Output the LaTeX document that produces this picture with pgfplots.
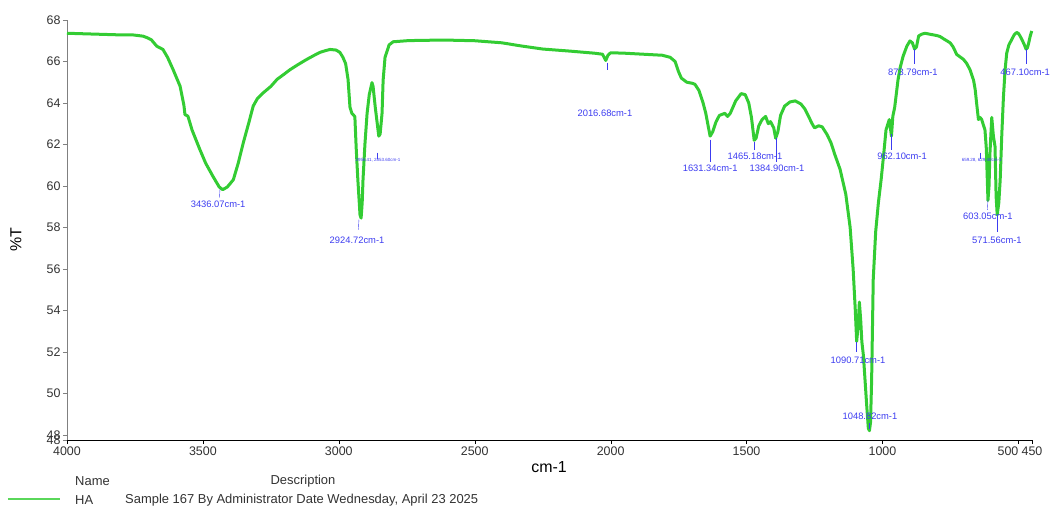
\documentclass[border=0pt]{standalone}
\usepackage{pgfplots}
\pgfplotsset{compat=1.18}
\usepackage{fontspec}
\setmainfont{Liberation Sans}
\definecolor{curve}{RGB}{51,204,51}
\definecolor{ann}{RGB}{60,60,240}
\definecolor{txt}{RGB}{50,50,50}
\definecolor{leg}{RGB}{90,215,90}
\begin{document}
\begin{tikzpicture}
\useasboundingbox (-67bp,-68bp) rectangle (986bp,440bp);
\begin{axis}[
  at={(0,0)}, anchor=south west,
  scale only axis, width=965bp, height=420bp,
  x dir=reverse, xmin=450, xmax=4000, ymin=47.75, ymax=68,
  axis x line=bottom, axis y line=left,
  axis line style={-},
  x axis line style={black},
  y axis line style={gray},
  xtick={4000,3500,3000,2500,2000,1500,1000,500,450},
  xticklabels={4000,3500,3000,2500,2000,1500,1000,\makebox[0pt][r]{500},450},
  ytick={48,50,52,54,56,58,60,62,64,66,68},
  extra y ticks={47.75}, extra y tick labels={48},
  tick align=outside, major tick length=4bp,
  xtick style={black}, ytick style={gray},
  extra y tick style={ytick style={gray}},
  /pgf/number format/assume math mode=true,
  /pgf/number format/1000 sep={},
  ticklabel style={font=\fontsize{12.5}{14}\selectfont, text=txt},
  xticklabel style={yshift=1bp},
  yticklabel style={xshift=1bp},
  clip=false,
]
\addplot[curve, line width=3bp, line join=round] coordinates {
(4000,67.36)(3900,67.32)(3800,67.28)(3757,67.28)(3720,67.22)(3706,67.15)(3690,67.05)
(3670,66.74)(3647,66.58)(3630,66.2)(3610,65.62)(3584,64.81)(3570,63.9)(3566,63.44)
(3560,63.40)(3555,63.36)(3540,62.7)(3511,61.75)(3490,61.1)(3463,60.46)(3440,59.95)
(3427,59.82)(3410,59.95)(3388,60.30)(3370,61.1)(3351,62.1)(3330,63.1)(3315,63.85)
(3300,64.2)(3277,64.5)(3250,64.8)(3227,65.14)(3200,65.4)(3180,65.6)(3150,65.85)
(3118,66.1)(3090,66.3)(3069,66.44)(3050,66.52)(3032,66.58)(3010,66.55)(2996,66.44)
(2985,66.2)(2975,65.9)(2966,65.13)(2959,63.8)(2952,63.5)(2948,63.45)(2941,63.34)
(2936,61.8)(2930,60.3)(2922,58.6)(2918,58.45)(2914,59.2)(2911,60.3)(2904,62.0)
(2896,63.5)(2888,64.4)(2878,64.98)(2874,64.8)(2866,63.8)(2853,62.4)(2848,62.5)
(2841,63.5)(2837,65.1)(2830,66.2)(2815,66.8)(2800,66.95)(2750,67.0)(2700,67.02)
(2600,67.03)(2500,67.0)(2400,66.9)(2330,66.75)(2250,66.6)(2150,66.5)(2060,66.4)
(2030,66.35)(2018,66.05)(2010,66.3)(2000,66.42)(1950,66.4)(1880,66.35)(1810,66.3)
(1781,66.2)(1763,66.0)(1750,65.5)(1740,65.2)(1720,65.0)(1700,64.95)(1690,64.9)
(1675,64.6)(1660,64.0)(1650,63.5)(1640,62.8)(1634,62.4)(1625,62.6)(1612,63.1)
(1600,63.4)(1580,63.5)(1570,63.35)(1560,63.5)(1540,64.1)(1520,64.45)(1505,64.4)
(1492,64.0)(1482,63.3)(1472,62.2)(1465,62.3)(1455,62.9)(1443,63.2)(1430,63.35)
(1420,63.0)(1412,63.1)(1400,62.8)(1393,62.3)(1385,62.6)(1375,63.4)(1360,63.85)
(1340,64.05)(1321,64.1)(1300,63.95)(1285,63.7)(1270,63.3)(1259,63.0)(1250,62.8)
(1235,62.9)(1222,62.85)(1205,62.5)(1190,62.1)(1175,61.5)(1156,60.8)(1135,59.6)
(1119,58.0)(1108,56.0)(1100,54.0)(1095,52.5)(1090,53.2)(1085,54.4)(1080,53.5)
(1076,52.5)(1070,51.8)(1064,50.6)(1058,49.4)(1052,48.3)(1048,48.2)(1044,48.6)
(1040,50.6)(1034,55.5)(1025,57.8)(1015,59.2)(1005,60.3)(995,61.6)(987,62.7)
(975,63.2)(967,62.4)(962,63.35)(955,63.8)(943,65.1)(935,65.7)(924,66.26)
(910,66.75)(899,66.99)(890,66.9)(882,66.6)(875,66.7)(867,67.23)(855,67.32)
(843,67.36)(820,67.3)(800,67.25)(788,67.2)(770,67.05)(751,66.9)(740,66.7)
(727,66.34)(702,66.1)(690,65.9)(678,65.6)(665,65.1)(659,64.65)(653,63.9)
(647,63.2)(641,63.3)(635,63.2)(628,62.9)(623,62.7)(618,61.8)(612,59.3)
(608,60.0)(605,61.5)(598,63.3)(592,62.4)(586,61.9)(582,59.5)(578,58.6)
(572,59.2)(567,60.3)(561,62.5)(555,64.3)(549,65.6)(543,66.4)(535,66.8)
(524,67.07)(515,67.3)(506,67.4)(500,67.35)(494,67.23)(485,67.0)(478,66.8)
(472,66.6)(467,66.65)(462,66.9)(457,67.2)(451,67.47)
};
% peak annotations
\begin{scope}[every node/.style={font=\fontsize{9.4}{10}\selectfont, text=ann, inner sep=0pt}]
\draw[ann, thin] (axis cs:3437,59.87) -- (axis cs:3439,59.43);
\node at (axis cs:3444,59.10) {3436.07cm-1};
\draw[ann, thin] (axis cs:2926,58.37) -- (axis cs:2928,57.89);
\node at (axis cs:2933,57.40) {2924.72cm-1};
\draw[ann, thin] (axis cs:2013,65.95) -- (axis cs:2013,65.6);
\node at (axis cs:2021,63.49) {2016.68cm-1};
\draw[ann, thin] (axis cs:1634,62.23) -- (axis cs:1634,61.16);
\node at (axis cs:1634,60.83) {1631.34cm-1};
\draw[ann, thin] (axis cs:1472,62.14) -- (axis cs:1472,61.75);
\node at (axis cs:1469,61.41) {1465.18cm-1};
\draw[ann, thin] (axis cs:1392,62.33) -- (axis cs:1392,61.16);
\node at (axis cs:1388,60.83) {1384.90cm-1};
\draw[ann, thin] (axis cs:969,62.48) -- (axis cs:969,61.75);
\node at (axis cs:928,61.41) {962.10cm-1};
\draw[ann, thin] (axis cs:884,66.58) -- (axis cs:884,65.86);
\node at (axis cs:888,65.47) {873.79cm-1};
\draw[ann, thin] (axis cs:472,66.58) -- (axis cs:472,65.86);
\node at (axis cs:475,65.47) {467.10cm-1};
\draw[ann, thin] (axis cs:612,59.34) -- (axis cs:614,58.85);
\node at (axis cs:612,58.56) {603.05cm-1};
\draw[ann, thin] (axis cs:579,58.6) -- (axis cs:579,57.8);
\node at (axis cs:579,57.40) {571.56cm-1};
\draw[ann, thin] (axis cs:1097,52.48) -- (axis cs:1097,52.0);
\node at (axis cs:1090,51.60) {1090.71cm-1};
\draw[ann, thin] (axis cs:1050,48.55) -- (axis cs:1050,48.3);
\node at (axis cs:1046,48.9) {1048.82cm-1};
\draw[ann, thin] (axis cs:2859,61.6) -- (axis cs:2859,61.3);
\node[font=\fontsize{4.5}{5}\selectfont] at (axis cs:2856,61.22) {2956.41, 2853.60cm-1};
\draw[ann, thin] (axis cs:641,61.6) -- (axis cs:641,61.3);
\node[font=\fontsize{4.5}{5}\selectfont] at (axis cs:635,61.22) {659.28, 629.40cm-1};
\end{scope}
\end{axis}
% axis titles
\node[font=\fontsize{16}{18}\selectfont, text=black] at (482bp,-27bp) {cm-1};
\node[font=\fontsize{16}{18}\selectfont, text=black, rotate=90] at (-51bp,200bp) {\%T};
% legend table
\begin{scope}[every node/.style={font=\fontsize{13}{15}\selectfont, text=txt, inner sep=0pt}]
\node[anchor=west] at (8bp,-41bp) {Name};
\node at (236bp,-41bp) {Description};
\draw[leg, line width=1.3bp] (-59bp,-59bp) -- (-7bp,-59bp);
\node[anchor=west] at (8bp,-60bp) {HA};
\node[anchor=west] at (58bp,-60bp) {Sample 167 By Administrator Date Wednesday, April 23 2025};
\end{scope}
\end{tikzpicture}
\end{document}
